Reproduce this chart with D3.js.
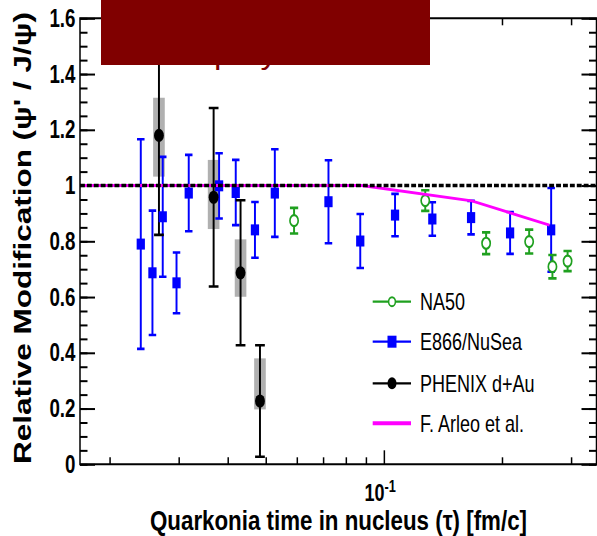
<!DOCTYPE html>
<html>
<head>
<meta charset="utf-8">
<script src="https://cdn.jsdelivr.net/npm/d3@7"></script>
<style>
  html, body { margin: 0; padding: 0; background: #fff; }
  svg { display: block; font-family: "Liberation Sans", Arial, Helvetica, sans-serif; }
</style>
</head>
<body>
<svg id="chart" width="597" height="536"></svg>
<script>
// Quarkonia time in nucleus (fm/c) and psi'/J/psi relative modification

// E866/NuSea
const e866Tau   = [0.0240, 0.0257, 0.0273, 0.0296, 0.0318, 0.0380, 0.0419, 0.0469, 0.0527, 0.0722, 0.0870, 0.1067, 0.1328, 0.1667, 0.2096, 0.2667];
const e866Ratio = [0.790, 0.687, 0.888, 0.651, 0.973, 0.999, 0.975, 0.841, 0.973, 0.942, 0.801, 0.894, 0.880, 0.885, 0.830, 0.841];
const e866Err   = [0.376, 0.223, 0.215, 0.109, 0.137, 0.117, 0.117, 0.100, 0.157, 0.149, 0.097, 0.076, 0.060, 0.060, 0.075, 0.150];

// NA50
const na50Tau   = [0.0590, 0.1274, 0.1821, 0.2344, 0.2687, 0.2937];
const na50Ratio = [0.874, 0.946, 0.793, 0.799, 0.709, 0.729];
const na50Err   = [0.046, 0.037, 0.039, 0.043, 0.042, 0.036];

// PHENIX d+Au (statistical bars, systematic boxes)
const phenixTau     = [0.0267, 0.0368, 0.0431, 0.0483];
const phenixRatio   = [1.180, 0.958, 0.687, 0.227];
const phenixStat    = [0.357, 0.320, 0.260, 0.200];
const phenixSysUp   = [0.135, 0.134, 0.120, 0.153];
const phenixSysDown = [0.148, 0.114, 0.086, 0.030];

// F. Arleo et al. calculation
const arleoTau   = [0.0168, 0.0877, 0.1674, 0.2641];
const arleoRatio = [1.000, 1.000, 0.945, 0.858];

// Axis ticks
const yMajor = [0, 0.2, 0.4, 0.6, 0.8, 1.0, 1.2, 1.4, 1.6];
const yMinor = d3.range(0, 1.6001, 0.05);
const xMinor = [0.02, 0.03, 0.04, 0.05, 0.06, 0.07, 0.08, 0.09, 0.2, 0.3];
const xMajor = [0.1];

const legendLabels = ["NA50", "E866/NuSea", "PHENIX d+Au", "F. Arleo et al."];

// ---------------------------------------------------------------
const SX = 0.75;                       // horizontal condensation of the whole frame
const svg = d3.select("#chart");
const g = svg.append("g").attr("transform", `scale(${SX},1)`);

const x = d3.scaleLog().domain([0.0168, 0.348]).range([80 / SX, 596.5 / SX]);
const y = d3.scaleLinear().domain([0, 1.6]).range([464.3, 18.3]);

const X0 = x.range()[0], X1 = x.range()[1];
const Y0 = y.range()[0], Y1 = y.range()[1];

const fmtY = d => (d === 0 ? "0" : d === 1 ? "1" : d3.format(".1f")(d));

function styleAxis(sel) {
  sel.select(".domain").remove();
  sel.selectAll(".tick line").attr("stroke", "#000").attr("stroke-width", 2);
  sel.selectAll(".tick text")
    .attr("fill", "#000")
    .attr("font-family", "Liberation Sans, Arial, sans-serif")
    .attr("font-weight", "bold")
    .attr("font-size", 25);
}

// Left axis
g.append("g").attr("transform", `translate(${X0},0)`)
  .call(d3.axisLeft(y).tickValues(yMinor).tickSize(-10).tickFormat(""))
  .call(styleAxis);
g.append("g").attr("transform", `translate(${X0},0)`)
  .call(d3.axisLeft(y).tickValues(yMajor).tickSize(-20).tickPadding(6).tickFormat(fmtY))
  .call(styleAxis);

// Right axis
g.append("g").attr("transform", `translate(${X1},0)`)
  .call(d3.axisRight(y).tickValues(yMinor).tickSize(-10).tickFormat(""))
  .call(styleAxis);
g.append("g").attr("transform", `translate(${X1},0)`)
  .call(d3.axisRight(y).tickValues(yMajor).tickSize(-20).tickFormat(""))
  .call(styleAxis);

// Bottom axis
g.append("g").attr("transform", `translate(0,${Y0})`)
  .call(d3.axisBottom(x).tickValues(xMinor).tickSize(-7).tickFormat(""))
  .call(styleAxis);
g.append("g").attr("transform", `translate(0,${Y0})`)
  .call(d3.axisBottom(x).tickValues(xMajor).tickSize(-14).tickFormat(""))
  .call(styleAxis);

// Top axis
g.append("g").attr("transform", `translate(0,${Y1})`)
  .call(d3.axisTop(x).tickValues(xMinor).tickSize(-7).tickFormat(""))
  .call(styleAxis);
g.append("g").attr("transform", `translate(0,${Y1})`)
  .call(d3.axisTop(x).tickValues(xMajor).tickSize(-14).tickFormat(""))
  .call(styleAxis);

// Frame
g.append("path")
  .attr("d", `M${X0},${Y1}V${Y0}H${X1}V${Y1}Z`)
  .attr("fill", "none").attr("stroke", "#000").attr("stroke-width", 2);

// 10^-1 label
const dec = g.append("text")
  .attr("x", x(0.1) - 5).attr("y", 501)
  .attr("text-anchor", "middle")
  .attr("font-weight", "bold").attr("font-size", 24).attr("fill", "#000");
dec.append("tspan").text("10");
dec.append("tspan").attr("dy", -9).attr("font-size", 17).text("-1");

// Axis titles
g.append("text")
  .attr("x", 338.5 / SX).attr("y", 530)
  .attr("text-anchor", "middle")
  .attr("font-weight", "bold").attr("font-size", 28)
  .attr("textLength", 377 / SX).attr("lengthAdjust", "spacingAndGlyphs")
  .attr("fill", "#000")
  .text("Quarkonia time in nucleus (\u03c4) [fm/c]");

g.append("text")
  .attr("transform", `translate(${31 / SX},464) rotate(-90)`)
  .attr("text-anchor", "start")
  .attr("font-weight", "bold").attr("font-size", 32)
  .attr("textLength", 452).attr("lengthAdjust", "spacingAndGlyphs")
  .attr("fill", "#000")
  .text("Relative Modification (\u03c8' / J/\u03c8)");

// PHENIX systematic boxes
const boxW = 15.5;
g.append("g").selectAll("rect").data(phenixTau).join("rect")
  .attr("x", (d) => x(d) - boxW / 2)
  .attr("width", boxW)
  .attr("y", (d, i) => y(phenixRatio[i] + phenixSysUp[i]))
  .attr("height", (d, i) => y(phenixRatio[i] - phenixSysDown[i]) - y(phenixRatio[i] + phenixSysUp[i]))
  .attr("fill", "#b0b0b0");

// Error bars helper
function errorBars(tau, val, errUp, errDown, color, capHalf, width) {
  const grp = g.append("g").attr("stroke", color).attr("stroke-width", width).attr("fill", "none");
  grp.selectAll("path").data(tau).join("path")
    .attr("d", (d, i) => {
      const cx = x(d), yt = y(val[i] + errUp[i]), yb = y(val[i] - errDown[i]);
      return `M${cx},${yt}V${yb}M${cx - capHalf},${yt}H${cx + capHalf}M${cx - capHalf},${yb}H${cx + capHalf}`;
    });
}

errorBars(e866Tau, e866Ratio, e866Err, e866Err, "#0000ff", 5, 2.6);
errorBars(na50Tau, na50Ratio, na50Err, na50Err, "#1fa01f", 5.5, 2.6);
errorBars(phenixTau, phenixRatio, phenixStat, phenixStat, "#000", 6.5, 2.6);

// E866 squares
const sq = 11;
g.append("g").selectAll("rect").data(e866Tau).join("rect")
  .attr("x", d => x(d) - sq / 2)
  .attr("y", (d, i) => y(e866Ratio[i]) - sq / 2)
  .attr("width", sq).attr("height", sq)
  .attr("fill", "#0000ff");

// NA50 open circles
g.append("g").selectAll("circle").data(na50Tau).join("circle")
  .attr("cx", d => x(d))
  .attr("cy", (d, i) => y(na50Ratio[i]))
  .attr("r", 5.5)
  .attr("fill", "#fff").attr("stroke", "#1fa01f").attr("stroke-width", 2.2);

// PHENIX filled circles
g.append("g").selectAll("circle").data(phenixTau).join("circle")
  .attr("cx", d => x(d))
  .attr("cy", (d, i) => y(phenixRatio[i]))
  .attr("r", 6.6)
  .attr("fill", "#000");

// Arleo curve
g.append("path")
  .datum(arleoTau.map((t, i) => [t, arleoRatio[i]]))
  .attr("d", d3.line().x(d => x(d[0])).y(d => y(d[1])))
  .attr("fill", "none").attr("stroke", "#ff00ff").attr("stroke-width", 3);

// Unity reference line
g.append("line")
  .attr("x1", X0).attr("x2", X1).attr("y1", y(1)).attr("y2", y(1))
  .attr("stroke", "#000").attr("stroke-width", 3.4)
  .attr("stroke-dasharray", "6.5,2.7");

// Legend
const legX0 = 372.7 / SX, legX1 = 411 / SX, legMid = 392 / SX, legText = 420 / SX;
const legRows = [301.7, 341.7, 383.3, 423.3];
const legColors = ["#1fa01f", "#0000ff", "#000", "#ff00ff"];
const leg = g.append("g");
legendLabels.forEach((lab, i) => {
  const cy = legRows[i];
  leg.append("line").attr("x1", legX0).attr("x2", legX1).attr("y1", cy).attr("y2", cy)
    .attr("stroke", legColors[i]).attr("stroke-width", i === 3 ? 4 : 2.2);
  if (i === 0) {
    leg.append("circle").attr("cx", legMid).attr("cy", cy).attr("r", 4.5)
      .attr("fill", "#fff").attr("stroke", legColors[i]).attr("stroke-width", 2);
  } else if (i === 1) {
    leg.append("rect").attr("x", legMid - 6).attr("y", cy - 6).attr("width", 12).attr("height", 12)
      .attr("fill", legColors[i]);
  } else if (i === 2) {
    leg.append("circle").attr("cx", legMid).attr("cy", cy).attr("r", 6).attr("fill", "#000");
  }
  leg.append("text").attr("x", legText).attr("y", cy + 8.3)
    .attr("font-size", 24).attr("fill", "#000").text(lab);
});

// Title banner
svg.append("text")
  .attr("x", 108).attr("y", 64)
  .attr("font-size", 30).attr("fill", "#800000")
  .attr("textLength", 318).attr("lengthAdjust", "spacingAndGlyphs")
  .text("Breakup by Nucleons");
svg.append("rect")
  .attr("x", 101).attr("y", 0).attr("width", 329).attr("height", 65)
  .attr("fill", "#800000");
</script>
</body>
</html>
